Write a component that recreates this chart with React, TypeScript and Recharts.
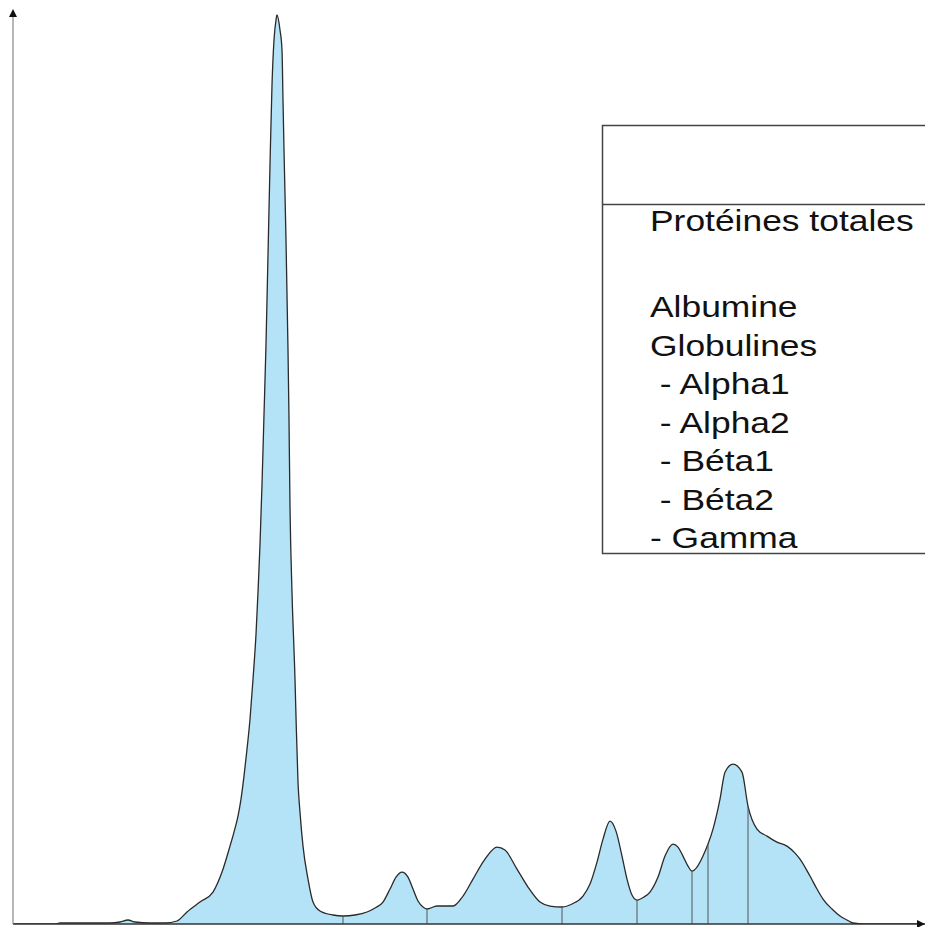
import React from "react";
import { ComposedChart, Area, XAxis, YAxis, ReferenceLine, ReferenceDot } from "recharts";

// Electrophoretic mobility (arbitrary units) and density (arbitrary units)
const mobility = [
  0, 42, 47, 97, 107, 115, 122, 137, 152, 164, 174, 187, 200, 209, 217, 221, 225, 228, 231, 234,
  237, 240, 243, 245, 247, 249, 251, 253, 255, 257, 259, 261, 263, 264, 267, 269, 270, 271, 273, 275,
  276, 277, 279, 282, 283, 285, 287, 290, 295, 300, 307, 320, 330, 342, 354, 362, 370, 377, 383, 389,
  395, 400, 405, 410, 414, 424, 440, 450, 460, 472, 484, 492, 504, 515, 527, 537, 549, 559, 570, 577,
  584, 590, 597, 603, 609, 614, 619, 624, 631, 637, 645, 652, 660, 665, 670, 675, 679, 684, 690, 695,
  700, 707, 712, 720, 729, 735, 744, 754, 764, 774, 782, 787, 797, 804, 810, 819, 827, 834, 840, 852,
  910,
];
const density = [
  0, 0, 1, 1, 2, 4, 2, 1, 1, 3, 12, 22, 32, 52, 78, 92, 108, 125, 148, 175,
  205, 245, 290, 332, 380, 440, 510, 580, 670, 760, 840, 885, 905, 910, 895, 875, 825, 775, 685, 575,
  505, 418, 332, 245, 208, 142, 112, 78, 45, 22, 13, 9, 8, 9, 12, 16, 22, 35, 47, 52,
  47, 35, 23, 17, 15, 18, 18, 28, 45, 65, 77, 74, 55, 37, 22, 18, 17, 20, 28, 40,
  62, 85, 103, 93, 68, 45, 29, 24, 27, 32, 47, 68, 80, 77, 68, 58, 53, 57, 68, 80,
  95, 125, 152, 160, 152, 118, 95, 88, 82, 78, 71, 65, 48, 35, 25, 15, 8, 4, 1, 0,
  0,
];
// Fraction boundaries (mobility positions)
const dividers = [330, 414, 549, 624, 679, 695, 735];

const headerLine = "Protéines totales";
const legendLines = ["Albumine", "Globulines", " - Alpha1", " - Alpha2", " - Béta1", " - Béta2", "- Gamma"];

const X_MAX = 912;
const Y_MAX = 914;

const data = mobility.map((x, i) => ({ x, y: density[i] }));
const densityAt = (x: number) => {
  const p = data.find((d) => d.x === x);
  return p ? p.y : 0;
};

const UpArrow = (props: any) => {
  const { cx, cy } = props;
  return <path d={`M${cx},${cy - 2} L${cx - 4},${cy + 6} L${cx + 4},${cy + 6} Z`} fill="#111" />;
};
const RightArrow = (props: any) => {
  const { cx, cy } = props;
  return <path d={`M${cx},${cy} L${cx - 8},${cy - 4} L${cx - 8},${cy + 4} Z`} fill="#111" />;
};

export default function App() {
  const font = "'Liberation Sans', Arial, sans-serif";
  return (
    <div style={{ position: "absolute", left: 0, top: 0, width: 925, height: 927, overflow: "hidden", background: "#fff" }}>
      <ComposedChart width={925} height={927} data={data} margin={{ top: 11, right: 0, bottom: 2, left: 12 }}>
        <XAxis
          type="number"
          dataKey="x"
          domain={[0, X_MAX]}
          ticks={[]}
          tick={false}
          tickLine={false}
          height={1}
          allowDataOverflow
          axisLine={{ stroke: "#333", strokeWidth: 1.5 }}
        />
        <YAxis
          type="number"
          domain={[0, Y_MAX]}
          ticks={[]}
          tick={false}
          tickLine={false}
          width={1}
          allowDataOverflow
          axisLine={{ stroke: "#888", strokeWidth: 1.2 }}
        />
        <Area
          type="monotone"
          dataKey="y"
          stroke="#2a2a2a"
          strokeWidth={1.3}
          fill="#b4e3f7"
          fillOpacity={1}
          dot={false}
          activeDot={false}
          isAnimationActive={false}
        />
        {dividers.map((x) => (
          <ReferenceLine
            key={x}
            segment={[
              { x, y: 0 },
              { x, y: densityAt(x) },
            ]}
            stroke="#555"
            strokeWidth={1}
            ifOverflow="visible"
          />
        ))}
        <ReferenceDot x={0} y={Y_MAX} ifOverflow="visible" shape={UpArrow} />
        <ReferenceDot x={X_MAX} y={0} ifOverflow="visible" shape={RightArrow} />
      </ComposedChart>
      <svg width={925} height={927} style={{ position: "absolute", left: 0, top: 0, pointerEvents: "none" }}>
        <rect x={602.5} y={125.5} width={340} height={428} fill="none" stroke="#444" strokeWidth={1.5} />
        <line x1={602.5} y1={204.5} x2={925} y2={204.5} stroke="#444" strokeWidth={1.5} />
        <text transform="translate(650,231) scale(1.2,1)" fontFamily={font} fontSize={29.5} fill="#111">
          {headerLine}
        </text>
        {legendLines.map((t, i) => (
          <text
            key={t}
            transform={`translate(650,${317 + i * 38.5}) scale(1.2,1)`}
            fontFamily={font}
            fontSize={29.5}
            fill="#111"
            style={{ whiteSpace: "pre" }}
          >
            {t}
          </text>
        ))}
      </svg>
    </div>
  );
}
